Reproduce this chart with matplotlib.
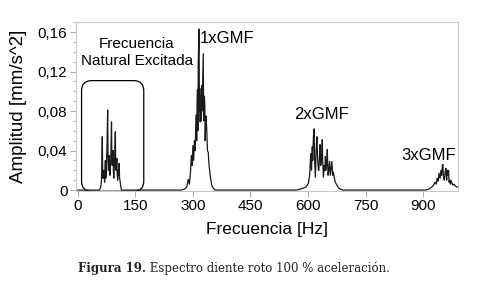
import matplotlib
matplotlib.use("Agg")
import matplotlib.pyplot as plt
from matplotlib.patches import FancyBboxPatch
from matplotlib.ticker import MultipleLocator, FuncFormatter

# spectrum, one cluster at a time (Hz, mm/s^2)
nat_hz = [56, 58, 60, 62, 63, 64, 65, 66, 68, 70,
          71, 72, 73, 74, 76, 77, 78, 79, 80, 82,
          83, 84, 86, 87, 88, 89, 90, 92, 93, 94,
          96, 97, 98, 99, 100, 102, 103, 104, 106, 107,
          108, 109, 110, 112, 114]
nat_amp = [0, 0.001, 0.003, 0.010, 0.030, 0.054, 0.020, 0.012, 0.020, 0.008,
           0.018, 0.030, 0.012, 0.015, 0.040, 0.060, 0.081, 0.030, 0.020, 0.035,
           0.018, 0.015, 0.030, 0.050, 0.069, 0.030, 0.025, 0.040, 0.018, 0.012,
           0.030, 0.045, 0.059, 0.025, 0.020, 0.032, 0.015, 0.010, 0.020, 0.015,
           0.027, 0.012, 0.010, 0.004, 0]

gmf1_hz = [270, 278, 284, 288, 291, 294, 296, 298, 300, 302,
           304, 306, 308, 310, 311, 312, 313, 314, 316, 317,
           318, 319, 320, 322, 323, 324, 326, 327, 328, 330,
           331, 332, 334, 336, 338, 340, 342, 344, 346, 349,
           353, 358]
gmf1_amp = [0, 0.001, 0.003, 0.011, 0.006, 0.020, 0.035, 0.025, 0.045, 0.030,
            0.050, 0.040, 0.076, 0.050, 0.090, 0.102, 0.060, 0.130, 0.163, 0.080,
            0.103, 0.069, 0.095, 0.070, 0.106, 0.080, 0.120, 0.138, 0.070, 0.095,
            0.086, 0.050, 0.075, 0.062, 0.040, 0.038, 0.025, 0.018, 0.012, 0.005,
            0.002, 0]

gmf2_hz = [570, 580, 588, 594, 598, 601, 604, 606, 607, 609,
           611, 612, 614, 616, 617, 619, 621, 623, 625, 627,
           628, 630, 631, 633, 635, 637, 638, 640, 642, 644,
           645, 647, 649, 650, 652, 654, 656, 658, 660, 662,
           664, 666, 668, 671, 675, 680, 684, 690]
gmf2_amp = [0, 0.001, 0.002, 0.003, 0.005, 0.007, 0.015, 0.030, 0.037, 0.020,
            0.044, 0.030, 0.055, 0.062, 0.030, 0.013, 0.040, 0.054, 0.030, 0.020,
            0.020, 0.035, 0.046, 0.025, 0.030, 0.051, 0.030, 0.013, 0.025, 0.020,
            0.034, 0.020, 0.030, 0.041, 0.015, 0.020, 0.029, 0.015, 0.022, 0.029,
            0.015, 0.018, 0.013, 0.008, 0.005, 0.002, 0.001, 0]

gmf3_hz = [905, 915, 922, 927, 931, 934, 936, 939, 941, 944,
           946, 948, 950, 951, 953, 955, 957, 959, 961, 962,
           964, 966, 967, 969, 971, 972, 974, 977, 980, 984,
           988, 991]
gmf3_amp = [0, 0.001, 0.003, 0.005, 0.008, 0.006, 0.012, 0.009, 0.017, 0.012,
            0.020, 0.015, 0.025, 0.026, 0.012, 0.010, 0.018, 0.022, 0.010, 0.020,
            0.015, 0.020, 0.008, 0.010, 0.006, 0.010, 0.008, 0.005, 0.006, 0.004,
            0.003, 0.003]

peak_labels = ["1xGMF", "2xGMF", "3xGMF"]
peak_label_x = [388, 636, 914]
peak_label_y = [0.153, 0.077, 0.035]
box_text = "Frecuencia\nNatural Excitada"
caption_bold = "Figura 19."
caption_rest = " Espectro diente roto 100 % aceleración."

freq_hz = [0] + nat_hz + gmf1_hz + gmf2_hz + gmf3_hz
amp = [0] + nat_amp + gmf1_amp + gmf2_amp + gmf3_amp

plt.rcParams['font.family'] = ['Liberation Sans', 'DejaVu Sans']

fig = plt.figure(figsize=(4.89, 2.99), dpi=100)
ax = fig.add_axes([0.155, 0.361, 0.782, 0.565])

ax.plot(freq_hz, amp, color='#1a1a1a', lw=0.9)

ax.set_xlim(-5, 991)
ax.set_ylim(-0.001, 0.170)
ax.xaxis.set_major_locator(MultipleLocator(150))
ax.yaxis.set_major_locator(MultipleLocator(0.04))
ax.yaxis.set_minor_locator(MultipleLocator(0.01))
ax.yaxis.set_major_formatter(FuncFormatter(
    lambda v, p: "0" if abs(v) < 1e-9 else ("%.2f" % v).replace(".", ",")))

for s in ax.spines.values():
    s.set_color('#c8c8c8')
    s.set_linewidth(0.8)
ax.tick_params(which='major', length=4, width=0.7, color='#aaaaaa',
               labelsize=11, pad=2)
ax.tick_params(which='minor', length=2, width=0.6, color='#aaaaaa')

ax.set_xlabel("Frecuencia [Hz]", fontsize=12.5, labelpad=6)
ax.set_ylabel("Amplitud [mm/s^2]", fontsize=13.5, labelpad=8)

for lab, x, y in zip(peak_labels, peak_label_x, peak_label_y):
    ax.text(x, y, lab, fontsize=12, ha='center', va='center')

ax.text(154, 0.139, box_text, fontsize=11, ha='center', va='center',
        linespacing=1.25)

# rounded box around the natural frequency cluster
fig.canvas.draw()
bb = ax.get_window_extent()
hz_per_px = (991 + 5) / bb.width
amp_per_px = 0.171 / bb.height
box = FancyBboxPatch((10, -0.0012), 162, 0.112,
                     boxstyle="round,pad=0,rounding_size=%f" % (10 * hz_per_px),
                     mutation_aspect=amp_per_px / hz_per_px,
                     fc='none', ec='black', lw=0.9, clip_on=False)
ax.add_patch(box)

t1 = fig.text(0.16, 0.09, caption_bold, fontsize=8.5, fontweight='bold',
              family='DejaVu Serif', color='#222222', va='baseline')
ax.annotate(caption_rest, xy=(1, 0), xycoords=t1, fontsize=8.5,
            family='DejaVu Serif', color='#222222', va='bottom',
            annotation_clip=False)

fig.savefig("out.png", dpi=100)
